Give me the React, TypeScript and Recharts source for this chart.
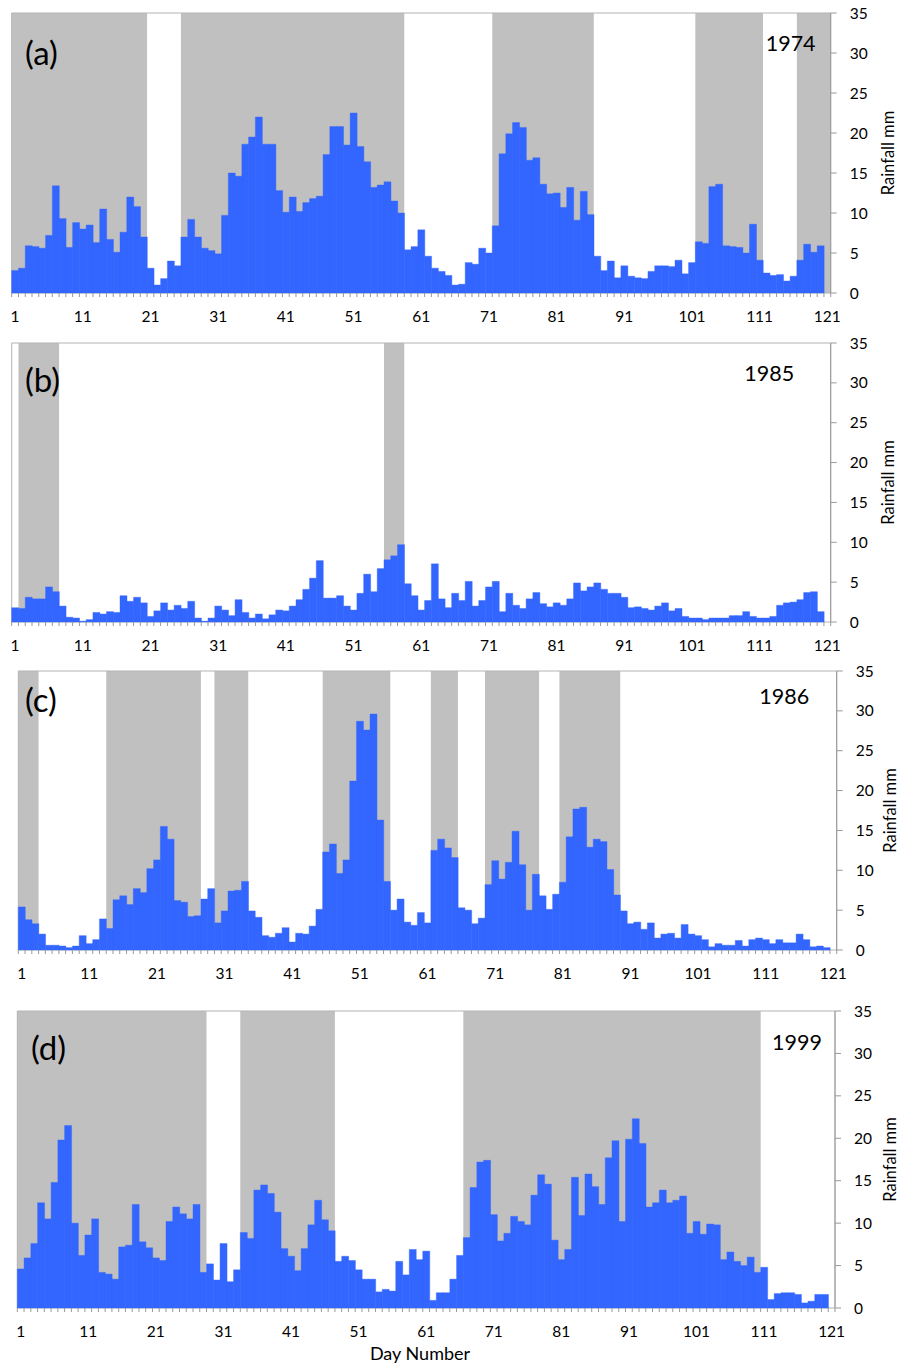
import React from 'react';
import { BarChart, Bar, XAxis, YAxis, ReferenceArea } from 'recharts';

// day numbers 1..121 on the category axis
const days = Array.from({ length: 121 }, (_, i) => i + 1);
const xLabelDays = [1, 11, 21, 31, 41, 51, 61, 71, 81, 91, 101, 111, 121];
const yTicks = [0, 5, 10, 15, 20, 25, 30, 35];

// daily rainfall (mm)
const rain1974 = [
  2.8, 3.1, 5.9, 5.8, 5.6, 7.2, 13.4, 9.3, 5.7, 8.8,
  8.0, 8.5, 6.3, 10.5, 6.7, 5.1, 7.6, 12.0, 10.8, 7.0,
  3.1, 1.0, 1.8, 4.0, 3.4, 7.0, 9.2, 7.0, 5.6, 5.3,
  4.9, 9.7, 15.0, 14.6, 18.6, 19.5, 22.0, 18.6, 18.6, 12.8,
  10.1, 12.0, 10.2, 11.3, 11.8, 12.1, 17.3, 20.8, 20.8, 18.5,
  22.5, 18.3, 16.4, 13.2, 13.5, 13.9, 11.5, 10.0, 5.4, 5.8,
  7.9, 4.6, 3.1, 2.7, 2.2, 1.0, 1.1, 3.8, 3.6, 5.6,
  5.0, 8.4, 17.4, 19.9, 21.3, 20.7, 16.6, 16.9, 13.6, 12.4,
  12.5, 10.7, 13.2, 9.1, 12.7, 9.8, 4.6, 2.8, 4.0, 1.9,
  3.4, 2.1, 1.9, 1.8, 2.7, 3.4, 3.4, 3.3, 4.1, 2.4,
  3.8, 6.4, 6.2, 13.3, 13.6, 5.9, 5.8, 5.7, 5.0, 8.6,
  4.1, 2.5, 2.2, 2.3, 1.5, 2.1, 4.1, 6.1, 5.1, 5.9,
  0,
];
const rain1985 = [
  1.8, 1.7, 3.1, 2.9, 2.9, 4.4, 3.8, 2.0, 0.6, 0.5,
  0.1, 0.3, 1.2, 1.0, 1.3, 1.2, 3.3, 2.6, 3.1, 2.4,
  0.7, 1.4, 2.4, 1.5, 2.1, 1.7, 2.6, 0.5, 0.1, 0.5,
  2.0, 1.5, 0.8, 2.8, 1.2, 0.5, 1.0, 0.4, 0.9, 1.5,
  1.4, 2.0, 2.8, 4.1, 5.5, 7.7, 3.0, 3.0, 3.3, 2.0,
  1.5, 3.6, 6.0, 3.8, 6.7, 7.8, 8.3, 9.7, 4.8, 3.3,
  1.5, 2.7, 7.3, 2.9, 1.8, 3.6, 2.7, 5.1, 2.0, 2.7,
  4.4, 5.1, 1.3, 3.6, 2.1, 1.7, 2.9, 3.7, 2.3, 1.9,
  2.4, 2.1, 2.9, 4.9, 3.9, 4.4, 4.9, 4.1, 3.6, 3.6,
  3.1, 1.8, 1.9, 1.7, 1.5, 2.0, 2.4, 1.4, 1.7, 0.7,
  0.5, 0.5, 0.3, 0.5, 0.5, 0.5, 0.8, 0.8, 1.3, 0.7,
  0.5, 0.5, 0.7, 2.1, 2.4, 2.5, 2.8, 3.7, 3.8, 1.3,
  0,
];
const rain1986 = [
  5.4, 3.8, 3.3, 2.0, 0.6, 0.6, 0.5, 0.3, 0.5, 1.8,
  0.8, 1.3, 3.9, 2.7, 6.3, 6.8, 5.7, 7.7, 7.2, 10.2,
  11.3, 15.5, 13.9, 6.2, 6.0, 4.2, 4.3, 6.4, 7.7, 3.4,
  4.9, 7.4, 7.5, 8.6, 4.9, 4.1, 1.8, 1.6, 2.1, 2.8,
  1.0, 2.1, 2.0, 3.0, 5.1, 12.3, 13.3, 9.6, 11.3, 21.2,
  28.7, 27.6, 29.6, 16.3, 8.6, 5.0, 6.4, 3.5, 3.1, 4.7,
  3.4, 12.5, 13.9, 12.8, 11.6, 5.3, 5.0, 3.3, 4.0, 8.2,
  11.2, 8.9, 11.0, 14.9, 10.7, 5.0, 9.5, 6.8, 5.1, 7.0,
  8.5, 14.2, 17.7, 17.9, 12.9, 13.9, 13.6, 10.1, 6.9, 4.9,
  3.3, 3.5, 2.6, 3.4, 1.5, 2.0, 2.1, 1.5, 3.2, 2.0,
  1.8, 1.3, 0.4, 0.8, 0.6, 0.6, 1.2, 0.5, 1.3, 1.5,
  1.3, 0.8, 1.3, 0.9, 0.9, 2.0, 1.3, 0.4, 0.5, 0.3,
  0,
];
const rain1999 = [
  4.6, 5.9, 7.6, 12.4, 10.5, 14.8, 19.8, 21.5, 10.0, 6.2,
  8.6, 10.5, 4.2, 4.0, 3.4, 7.2, 7.4, 12.2, 7.8, 7.1,
  5.9, 5.6, 10.2, 11.9, 11.1, 10.5, 12.2, 4.2, 5.2, 3.3,
  7.6, 3.1, 4.5, 8.9, 8.2, 13.9, 14.5, 13.5, 11.3, 7.0,
  6.1, 4.4, 7.0, 9.8, 12.7, 10.4, 9.1, 5.5, 6.1, 5.6,
  4.5, 3.4, 3.4, 1.9, 2.2, 2.0, 5.5, 3.9, 6.9, 5.7,
  6.7, 0.9, 1.8, 1.8, 3.4, 6.2, 8.3, 14.2, 17.2, 17.4,
  11.0, 7.9, 8.8, 10.8, 10.2, 9.8, 13.3, 15.7, 14.6, 8.0,
  5.7, 6.9, 15.4, 10.9, 15.8, 14.3, 12.2, 17.7, 19.7, 10.2,
  19.9, 22.3, 19.4, 11.9, 12.4, 13.9, 12.4, 12.7, 13.2, 8.8,
  10.2, 8.7, 9.9, 9.8, 5.7, 6.6, 5.5, 5.0, 6.0, 4.2,
  4.8, 1.0, 1.7, 1.8, 1.8, 1.6, 0.6, 0.8, 1.6, 1.6,
  0,
];

// grey shaded day ranges [first, last]
const shade1974 = [[1, 20], [26, 58], [72, 86], [102, 111], [117, 121]];
const shade1985 = [[2, 7], [56, 58]];
const shade1986 = [[1, 3], [14, 27], [30, 34], [46, 55], [62, 65], [70, 77], [81, 89]];
const shade1999 = [[1, 28], [34, 47], [67, 110]];

const FONT = 'Lato, "Open Sans", sans-serif';
const W = 901;
const AXIS_W = 50;
const TOP_PAD = 14;
const X_AXIS_H = 40;

const panels = [
  { tag: '(a)', year: '1974', rain: rain1974, shade: shade1974,
    box: { left: 11.7, right: 830.7, top: 13, bottom: 293 }, tagY: 52, yearX: 765.7, yearY: 43 },
  { tag: '(b)', year: '1985', rain: rain1985, shade: shade1985,
    box: { left: 11.7, right: 830.7, top: 343, bottom: 622 }, tagY: 379, yearX: 744.3, yearY: 373 },
  { tag: '(c)', year: '1986', rain: rain1986, shade: shade1986,
    box: { left: 18.3, right: 836.7, top: 671, bottom: 950 }, tagY: 699, yearX: 759.3, yearY: 696 },
  { tag: '(d)', year: '1999', rain: rain1999, shade: shade1999,
    box: { left: 17.3, right: 835, top: 1011, bottom: 1308 }, tagY: 1047, yearX: 772, yearY: 1042, tagX: 31 },
];

function DayTick(props: any) {
  const { x, y, payload, bw } = props;
  const day = payload.value;
  const edge = x - bw / 2;
  return (
    <g>
      <line x1={edge} x2={edge} y1={y} y2={y + 4} stroke="#999" />
      {day === 121 && <line x1={x + bw / 2} x2={x + bw / 2} y1={y} y2={y + 4} stroke="#999" />}
      {xLabelDays.includes(day) && (
        <text x={x} y={y + 29} textAnchor="middle" fontSize={15.5} fontFamily={FONT} fill="#000">
          {day}
        </text>
      )}
    </g>
  );
}

function Panel({ rain, shade, box }: any) {
  const data = days.map((d, i) => ({ day: d, rain: rain[i] }));
  const bw = (box.right - box.left) / days.length;
  const h = box.bottom - box.top + TOP_PAD + X_AXIS_H;
  return (
    <div style={{ position: 'absolute', left: 0, top: box.top - TOP_PAD, width: W, height: h }}>
      <BarChart
        width={W}
        height={h}
        data={data}
        margin={{ top: TOP_PAD, right: W - box.right - AXIS_W, bottom: 0, left: box.left }}
        barCategoryGap={0}
        barGap={0}
      >
        {shade.map(([a, b]: number[]) => (
          <ReferenceArea key={a} x1={a} x2={b} y1={0} y2={35} fill="#c0c0c0" fillOpacity={1} stroke="none" ifOverflow="visible" />
        ))}
        <XAxis
          dataKey="day"
          interval={0}
          height={X_AXIS_H}
          tickSize={0}
          tickMargin={0}
          axisLine={false}
          tickLine={false}
          tick={(p: any) => <DayTick {...p} bw={bw} />}
        />
        <YAxis
          orientation="right"
          width={AXIS_W}
          domain={[0, 35]}
          ticks={yTicks}
          interval={0}
          tickSize={6}
          tickMargin={13}
          axisLine={{ stroke: '#999' }}
          tickLine={{ stroke: '#999' }}
          tick={{ fill: '#000', fontSize: 15.5, fontFamily: FONT }}
        />
        <Bar dataKey="rain" fill="#3366ff" stroke="#3366ff" strokeWidth={0.4} isAnimationActive={false} />
        <ReferenceArea x1={1} x2={121} y1={0} y2={35} fill="none" stroke="#b3b3b3" ifOverflow="visible" />
      </BarChart>
    </div>
  );
}

export default function App() {
  return (
    <div style={{ position: 'absolute', left: 0, top: 0, width: W, height: 1364, background: '#fff', fontFamily: FONT }}>
      {panels.map((p) => (
        <Panel key={p.tag} rain={p.rain} shade={p.shade} box={p.box} />
      ))}
      <svg width={W} height={1364} style={{ position: 'absolute', left: 0, top: 0, pointerEvents: 'none' }}>
        {panels.map((p) => {
          const midY = (p.box.top + p.box.bottom) / 2;
          const rx = Math.min(p.box.right + 57, 890);
          return (
            <g key={p.tag} fontFamily={FONT} fill="#000">
              <text x={p.tagX ?? 25} y={p.tagY} fontSize={33} dominantBaseline="central">{p.tag}</text>
              <text x={p.yearX} y={p.yearY} fontSize={21.5} dominantBaseline="central">{p.year}</text>
              <text x={rx} y={midY} fontSize={16.5} textAnchor="middle" dominantBaseline="central" transform={`rotate(-90 ${rx} ${midY})`}>
                Rainfall mm
              </text>
            </g>
          );
        })}
        <text x={420} y={1353} fontSize={18} fontFamily={FONT} textAnchor="middle" dominantBaseline="central" fill="#000">
          Day Number
        </text>
      </svg>
    </div>
  );
}
